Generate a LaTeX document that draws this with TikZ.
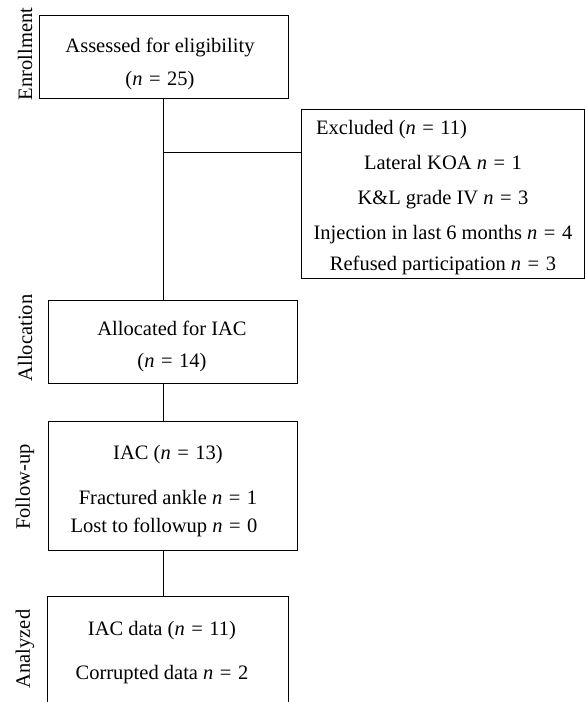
\documentclass[tikz,border=0pt]{standalone}
\usepackage{fontspec}
\setmainfont{Liberation Serif}
\newcommand{\nv}[1]{\textit{n}\hspace{0.32em}=\hspace{0.32em}#1}
\begin{document}
\begin{tikzpicture}[x=1pt,y=-1pt,
  box/.style={draw,line width=0.9pt,inner sep=0pt,anchor=center},
  txt/.style={font=\fontsize{20.5}{23}\selectfont,inner sep=0pt,anchor=base},
  side/.style={font=\fontsize{20.5}{23}\selectfont,inner sep=0pt,rotate=90,anchor=center},
  conn/.style={line width=0.9pt}]
\useasboundingbox (0,0) rectangle (585,702);
\fill[white] (0,0) rectangle (585,702);
% boxes
\node[box,minimum width=249pt,minimum height=83pt] (enr) at (163.5,56.5) {};
\node[box,minimum width=283pt,minimum height=169pt] (exc) at (442.5,193.5) {};
\node[box,minimum width=249pt,minimum height=83pt] (alo) at (172.5,341.5) {};
\node[box,minimum width=249pt,minimum height=129pt] (fol) at (172.5,485.5) {};
\node[inner sep=0pt,minimum width=240pt,minimum height=107pt] (ana) at (168,650.5) {};
\draw[conn] (ana.south west) |- (ana.north east) -- (ana.south east);
% side labels
\node[side] (l1) at (25,54) {Enrollment};
\node[side] (l2) at (25,338) {Allocation};
\node[side] (l3) at (25,487) {Follow-up};
\node[side] (l4) at (25,649) {Analyzed};
% texts
\node[txt] (t1a) at (160,52) {Assessed for eligibility};
\node[txt] (t1b) at (160,85) {(\nv{25})};
\node[txt,anchor=base west] (t2a) at (316,134) {Excluded (\nv{11})};
\node[txt] (t2b) at (443,169) {Lateral KOA \nv{1}};
\node[txt] (t2c) at (443,204) {K\&L grade IV \nv{3}};
\node[txt] (t2d) at (443,239) {Injection in last 6 months \nv{4}};
\node[txt] (t2e) at (443,270) {Refused participation \nv{3}};
\node[txt] (t3a) at (172,335) {Allocated for IAC};
\node[txt] (t3b) at (172,367) {(\nv{14})};
\node[txt] (t4a) at (168,459) {IAC (\nv{13})};
\node[txt] (t4b) at (168,504) {Fractured ankle \nv{1}};
\node[txt] (t4c) at (164,532) {Lost to followup \nv{0}};
\node[txt] (t5a) at (162,635) {IAC data (\nv{11})};
\node[txt] (t5b) at (162,679) {Corrupted data \nv{2}};
% connectors
\coordinate (br) at (163,152);
\draw[conn] (enr.south -| br) -- (alo.north -| br);
\draw[conn] (br) -- (br -| exc.west);
\draw[conn] (alo.south -| br) -- (fol.north -| br);
\draw[conn] (fol.south -| br) -- (ana.north -| br);
\end{tikzpicture}
\end{document}
